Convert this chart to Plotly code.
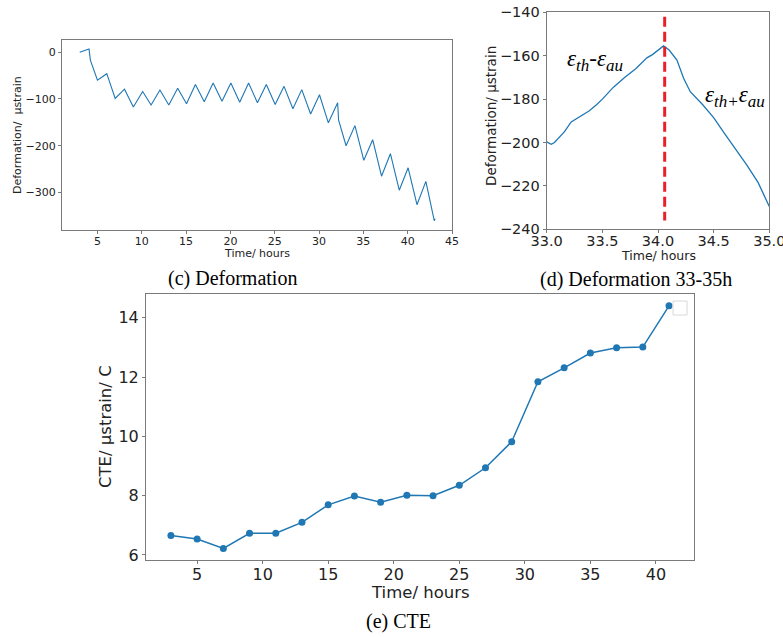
import plotly.graph_objects as go

W, H = 783, 637

# ---------- (c) Deformation, whole test ----------
def_time = [3.0, 3.5, 4.05, 4.2, 5.0, 6.05, 7.0, 8.05, 9.05, 10.1, 11.05, 12.05,
            13.05, 14.05, 15.05, 16.05, 17.05, 18.05, 19.05, 20.05, 21.05, 22.05,
            23.05, 24.05, 25.05, 26.05, 27.05, 28.05, 29.05, 30.05, 31.05, 32.1,
            32.2, 33.05, 34.05, 35.05, 36.05, 37.05, 38.05, 39.05, 40.05, 41.05,
            42.05, 43.0, 43.1]
def_val = [0, 4, 7, -17, -60, -46, -99, -79, -117, -84, -113, -81,
           -113, -77, -110, -69, -106, -66, -105, -66, -107, -66,
           -108, -69, -112, -73, -121, -80, -132, -91, -151, -108,
           -145, -200, -157, -231, -187, -265, -217, -295, -247, -326,
           -276, -360, -356]

# ---------- (d) Deformation 33-35 h ----------
zoom_time = [33.0, 33.04, 33.07, 33.12, 33.16, 33.22, 33.3, 33.38, 33.45, 33.5,
             33.6, 33.7, 33.8, 33.9, 33.95, 34.0, 34.05, 34.1, 34.17, 34.23,
             34.29, 34.4, 34.5, 34.6, 34.7, 34.8, 34.9, 35.0]
zoom_val = [-199.7, -200.8, -200.0, -197.3, -195.0, -190.5, -188.0, -185.5, -182.5, -180.0,
            -174.5, -170.0, -166.0, -161.0, -159.5, -157.5, -155.5, -157.4, -162.0, -170.4,
            -176.6, -182.5, -188.5, -196.0, -203.0, -210.5, -218.5, -229.5]
split_time = [34.06, 34.06]
split_val = [-142, -236]
SUB = '<sub><span style="font-size:17px">{}</span></sub>'
label_heat = "<i>ε" + SUB.format("th") + "</i>-<i>ε" + SUB.format("au") + "</i>"
label_cool = "<i>ε" + SUB.format("th+") + "ε" + SUB.format("au") + "</i>"

# ---------- (e) CTE ----------
cte_time = [3, 5, 7, 9, 11, 13, 15, 17, 19, 21, 23, 25, 27, 29, 31, 33, 35, 37, 39, 41]
cte_val = [6.66, 6.54, 6.22, 6.73, 6.73, 7.10, 7.69, 7.99, 7.78, 8.01,
           8.00, 8.35, 8.94, 9.82, 11.84, 12.31, 12.81, 12.99, 13.01, 14.40]

captions = ["(c) Deformation", "(d) Deformation 33-35h", "(e) CTE"]
x_title = "Time/ hours"
y_titles = ["Deformation/  μstrain", "Deformation/ μstrain", "CTE/ μstrain/ C"]

BLUE = "#1f77b4"
SPINE = "#7a7a7a"
FONT = "DejaVu Sans"
INK = "#222222"


def X(p):
    return p / W


def Y(p):
    return 1 - p / H


def px_x(a, b):
    return [X(a), X(b)]


def px_y(top, bottom):
    return [Y(bottom), Y(top)]


fig = go.Figure()

fig.add_trace(go.Scatter(x=def_time, y=def_val, mode="lines",
                         line=dict(color=BLUE, width=1.1),
                         xaxis="x", yaxis="y", showlegend=False))
fig.add_trace(go.Scatter(x=zoom_time, y=zoom_val, mode="lines",
                         line=dict(color=BLUE, width=1.3),
                         xaxis="x2", yaxis="y2", showlegend=False))
fig.add_trace(go.Scatter(x=split_time, y=split_val, mode="lines",
                         line=dict(color="#e8202a", width=3, dash="10px,5px"),
                         xaxis="x2", yaxis="y2", showlegend=False))
fig.add_trace(go.Scatter(x=cte_time, y=cte_val, mode="lines+markers",
                         line=dict(color=BLUE, width=1.5),
                         marker=dict(color=BLUE, size=7),
                         xaxis="x3", yaxis="y3", showlegend=False))


def axis(domain, rng, anchor, size, dtick, fmt=None, lift=0):
    d = dict(domain=domain, range=rng, anchor=anchor, showgrid=False,
             zeroline=False, showline=True, mirror=True, linecolor=SPINE,
             linewidth=1, ticks="outside", ticklen=3, tickcolor=SPINE,
             ticklabeloverflow="allow", automargin=False,
             ticklabelstandoff=lift,
             dtick=dtick, tick0=0,
             tickfont=dict(family=FONT, size=size, color=INK))
    if fmt:
        d["tickformat"] = fmt
    return d


fig.update_layout(
    width=W, height=H,
    margin=dict(l=0, r=0, t=0, b=0, pad=0),
    paper_bgcolor="white", plot_bgcolor="white",
    xaxis=axis(px_x(62, 452), [1, 45], "y", 11, 5, lift=-2),
    yaxis=axis(px_y(40, 230), [-380, 26], "x", 11, 100),
    xaxis2=axis(px_x(546.7, 769.3), [33, 35], "y2", 14.5, 0.5, fmt=".1f", lift=-5),
    yaxis2=axis(px_y(12.3, 229.3), [-240, -140], "x2", 14.5, 20),
    xaxis3=axis(px_x(146, 694.3), [1.1, 42.93], "y3", 16, 5, lift=-3),
    yaxis3=axis(px_y(294, 560), [5.83, 14.8], "x3", 16, 2),
)

# axis titles (placed in page pixels)
for text, cx, cy, size, angle in [
    (x_title, 257, 254, 11, 0),
    (y_titles[0], 18, 135, 11, -90),
    (x_title, 658, 256, 12.5, 0),
    (y_titles[1], 491, 116, 13.5, -90),
    (x_title, 420, 592, 16.5, 0),
    (y_titles[2], 106, 427, 16.5, -90),
]:
    fig.add_annotation(text=text, x=X(cx), y=Y(cy), xref="paper", yref="paper",
                       xanchor="center", yanchor="middle", textangle=angle,
                       showarrow=False, font=dict(family=FONT, size=size, color=INK))

ann_font = dict(family="Liberation Serif", size=20, color="black")
for text, cx, cy in [(captions[0], 233, 278), (captions[1], 636, 279), (captions[2], 398, 621)]:
    fig.add_annotation(text=text, x=X(cx), y=Y(cy), xref="paper", yref="paper",
                       xanchor="center", yanchor="middle", showarrow=False, font=ann_font)

eps_font = dict(family="Liberation Serif", size=23, color="black")
fig.add_annotation(text=label_heat, x=33.43, y=-162.4, xref="x2", yref="y2",
                   xanchor="center", yanchor="middle", showarrow=False, font=eps_font)
fig.add_annotation(text=label_cool, x=34.69, y=-178.6, xref="x2", yref="y2",
                   xanchor="center", yanchor="middle", showarrow=False, font=eps_font)

# empty legend frame at top right of (e)
fig.add_shape(type="rect", xref="paper", yref="paper",
              x0=X(673), x1=X(687), y0=Y(315), y1=Y(301),
              line=dict(color="#d8d8d8", width=1), fillcolor="white")

fig.write_html("out.html", config={"displayModeBar": False},
               post_script="document.body.style.margin='0px';")
